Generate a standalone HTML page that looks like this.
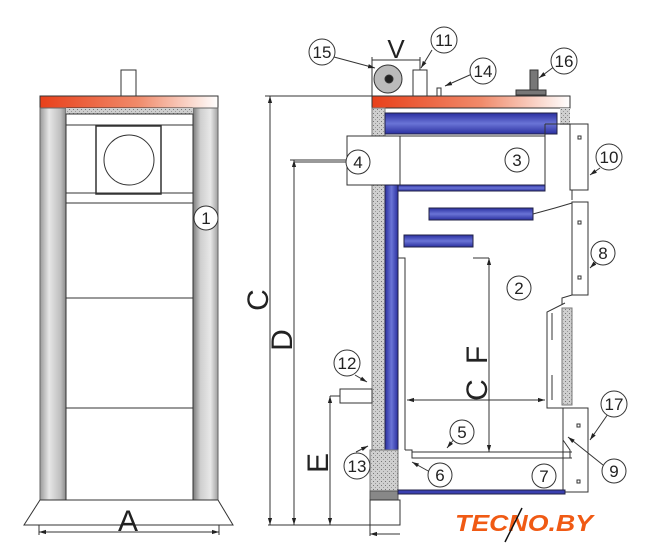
<!DOCTYPE html>
<html><head><meta charset="utf-8"><style>
html,body{margin:0;padding:0;background:#fff;}
svg{display:block;}
text{font-family:"Liberation Sans",sans-serif;fill:#222;}
</style></head><body>
<svg width="648" height="560" viewBox="0 0 648 560" xmlns="http://www.w3.org/2000/svg">
<defs>
<linearGradient id="red" x1="0" x2="1"><stop offset="0" stop-color="#e8401a"/><stop offset="0.55" stop-color="#f08a6a"/><stop offset="1" stop-color="#fff"/></linearGradient>
<linearGradient id="col" x1="0" x2="1"><stop offset="0" stop-color="#9a9a9a"/><stop offset="0.35" stop-color="#e6e6e6"/><stop offset="0.8" stop-color="#bdbdbd"/><stop offset="1" stop-color="#8a8a8a"/></linearGradient>
<linearGradient id="colr" x1="0" x2="1"><stop offset="0" stop-color="#7a7a7a"/><stop offset="0.3" stop-color="#cfcfcf"/><stop offset="0.7" stop-color="#e8e8e8"/><stop offset="1" stop-color="#a0a0a0"/></linearGradient>
<linearGradient id="blu" x1="0" x2="1"><stop offset="0" stop-color="#2a2fa0"/><stop offset="0.5" stop-color="#6a74d6"/><stop offset="1" stop-color="#2a2fa0"/></linearGradient>
<linearGradient id="bluv" x1="0" x2="0" y1="0" y2="1"><stop offset="0" stop-color="#2a2fa0"/><stop offset="0.5" stop-color="#6a74d6"/><stop offset="1" stop-color="#2a2fa0"/></linearGradient>
<pattern id="ins" width="4" height="4" patternUnits="userSpaceOnUse"><rect width="4" height="4" fill="#cfcfcf"/><rect x="1" y="1" width="1" height="1" fill="#777"/><rect x="3" y="3" width="1" height="1" fill="#999"/></pattern>
<marker id="ar" viewBox="0 0 10 10" refX="10" refY="5" markerWidth="7" markerHeight="7" orient="auto-start-reverse"><path d="M0,2 L10,5 L0,8 z" fill="#222"/></marker>
</defs>
<g stroke="#333" stroke-width="1" fill="none">
<!-- LEFT VIEW -->
<rect x="121" y="70" width="15" height="26" fill="#fff"/>
<rect x="40" y="96" width="178" height="12" fill="url(#red)"/>
<rect x="40" y="108" width="26" height="392" fill="url(#col)" stroke="#666"/>
<rect x="193" y="108" width="25" height="392" fill="url(#colr)" stroke="#666"/>
<rect x="66" y="108" width="127" height="6" fill="url(#ins)" stroke="none"/>
<rect x="66" y="114" width="127" height="386"/>
<line x1="66" y1="125" x2="193" y2="125"/>
<rect x="96" y="126" width="65" height="68" stroke-width="1.5"/>
<circle cx="129" cy="160" r="25"/>
<line x1="66" y1="193" x2="193" y2="193"/>
<line x1="66" y1="203" x2="193" y2="203"/>
<line x1="66" y1="298" x2="193" y2="298"/>
<line x1="66" y1="408" x2="193" y2="408"/>
<path d="M40,500 H218 L233,525 H24 Z" fill="#fff"/>
<line x1="39" y1="525" x2="39" y2="535"/><line x1="219" y1="525" x2="219" y2="535"/>
<line x1="39" y1="532" x2="219" y2="532" marker-start="url(#ar)" marker-end="url(#ar)"/>
<!-- DIMENSIONS -->
<line x1="265" y1="96" x2="372" y2="96"/>
<line x1="268" y1="525" x2="372" y2="525"/>
<line x1="270" y1="96" x2="270" y2="525" marker-start="url(#ar)" marker-end="url(#ar)"/>
<line x1="290" y1="160" x2="347" y2="160"/>
<line x1="294" y1="160" x2="294" y2="525" marker-start="url(#ar)" marker-end="url(#ar)"/>
<line x1="330" y1="396" x2="342" y2="396"/>
<line x1="330" y1="396" x2="330" y2="525" marker-start="url(#ar)" marker-end="url(#ar)"/>
<line x1="370" y1="525" x2="370" y2="536"/>
<line x1="370" y1="534" x2="400" y2="534" marker-start="url(#ar)"/>
<line x1="372" y1="57" x2="372" y2="96"/><line x1="420" y1="57" x2="420" y2="90"/>
<line x1="372" y1="60" x2="420" y2="60"/>
<!-- RIGHT VIEW top items -->
<circle cx="388" cy="79" r="14" fill="#bbb"/><circle cx="389" cy="79" r="4" fill="#222"/>
<rect x="413" y="70" width="14" height="26" fill="#fff"/>
<rect x="437" y="88" width="4" height="8" fill="#fff"/>
<rect x="530" y="70" width="8" height="20" fill="#777"/>
<rect x="516" y="90" width="30" height="5" fill="#777"/>
<rect x="372" y="96" width="198" height="12" fill="url(#red)"/>
<rect x="372" y="108" width="13" height="392" fill="url(#ins)" stroke="#777"/>
<rect x="560" y="108" width="10" height="17" fill="url(#ins)" stroke="none"/>
<rect x="385" y="113" width="172" height="21" fill="url(#bluv)" stroke="#224"/>
<rect x="347" y="136" width="53" height="49" fill="#fff"/>
<line x1="397" y1="136" x2="545" y2="136"/><line x1="545" y1="124" x2="545" y2="191"/>
<path d="M545,124 H570"/>
<rect x="385" y="185" width="160" height="6" fill="url(#bluv)" stroke="#224"/>
<rect x="385" y="185" width="13" height="265" fill="url(#blu)" stroke="#224"/>
<rect x="429" y="208" width="104" height="12" fill="url(#bluv)" stroke="#224"/>
<path d="M533,214 L555,208 L572,203"/>
<rect x="404" y="235" width="69" height="12" fill="url(#bluv)" stroke="#224"/>
<path d="M398,258 H405 V450"/>
<!-- right doors -->
<rect x="570" y="124" width="18" height="66" fill="#fff"/>
<rect x="572" y="202" width="16" height="93" fill="#fff"/>
<path d="M572,190 V200 M572,295 L562,298 V305"/>
<rect x="578" y="136" width="3" height="3"/><rect x="578" y="221" width="3" height="3"/><rect x="578" y="276" width="3" height="3"/>
<path d="M565,303 L547,312 V408 H572"/>
<rect x="562" y="308" width="10" height="97" fill="url(#ins)" stroke="#777"/>
<path d="M552,313 V340 M552,375 V400"/>
<rect x="563" y="408" width="25" height="84" fill="#fff"/>
<path d="M563,410 V440 L570,450 V458"/>
<rect x="577" y="424" width="3" height="3"/><rect x="577" y="480" width="3" height="3"/>
<!-- ash -->
<path d="M405,450 H412 V458 H572 M412,452 H572"/>
<rect x="370" y="450" width="28" height="50" fill="url(#ins)" stroke="#777"/>
<rect x="370" y="491" width="28" height="9" fill="#888" stroke="#555"/>
<rect x="398" y="490" width="167" height="4" fill="#3a40b0" stroke="#224"/>
<rect x="370" y="500" width="30" height="25"/>
<rect x="340" y="389" width="32" height="14" fill="#fff"/>
<!-- F and U -->
<line x1="489" y1="258" x2="489" y2="452" marker-start="url(#ar)" marker-end="url(#ar)"/>
<line x1="473" y1="258" x2="489" y2="258"/>
<line x1="407" y1="400" x2="545" y2="400" marker-start="url(#ar)" marker-end="url(#ar)"/>
<!-- leader lines -->
<line x1="334" y1="57" x2="375" y2="68" marker-end="url(#ar)"/><line x1="432" y1="50" x2="421" y2="68" marker-end="url(#ar)"/>
<line x1="472" y1="74" x2="445" y2="86" marker-end="url(#ar)"/><line x1="555" y1="66" x2="539" y2="78" marker-end="url(#ar)"/>
<line x1="346" y1="162" x2="294" y2="162"/>
<line x1="600" y1="168" x2="590" y2="175" marker-end="url(#ar)"/>
<line x1="596" y1="262" x2="590" y2="268" marker-end="url(#ar)"/>
<line x1="355" y1="375" x2="367" y2="382" marker-end="url(#ar)"/>
<line x1="356" y1="452" x2="368" y2="446" marker-end="url(#ar)"/>
<line x1="455" y1="438" x2="447" y2="448" marker-end="url(#ar)"/>
<line x1="430" y1="472" x2="412" y2="462" marker-end="url(#ar)"/>
<line x1="603" y1="465" x2="568" y2="437" marker-end="url(#ar)"/>
<line x1="608" y1="414" x2="590" y2="440" marker-end="url(#ar)"/>
<!-- number circles -->
<g fill="#fff" stroke="#333">
<circle cx="206" cy="218" r="12"/><circle cx="322" cy="52" r="13"/><circle cx="444" cy="40" r="13"/>
<circle cx="483" cy="71" r="13"/><circle cx="564" cy="61" r="13"/><circle cx="358" cy="162" r="12"/>
<circle cx="517" cy="160" r="12"/><circle cx="609" cy="157" r="13"/><circle cx="603" cy="253" r="12"/>
<circle cx="519" cy="288" r="12"/><circle cx="347" cy="363" r="13"/><circle cx="357" cy="466" r="13"/>
<circle cx="462" cy="432" r="12"/><circle cx="440" cy="475" r="12"/><circle cx="544" cy="476" r="12"/>
<circle cx="614" cy="471" r="12"/><circle cx="614" cy="404" r="13"/>
</g>
</g>
<g font-size="17" text-anchor="middle">
<text x="206" y="224">1</text><text x="322" y="58">15</text><text x="444" y="46">11</text>
<text x="483" y="77">14</text><text x="564" y="67">16</text><text x="358" y="168">4</text>
<text x="517" y="166">3</text><text x="609" y="163">10</text><text x="603" y="259">8</text>
<text x="519" y="294">2</text><text x="347" y="369">12</text><text x="357" y="472">13</text>
<text x="462" y="438">5</text><text x="440" y="481">6</text><text x="544" y="482">7</text>
<text x="614" y="477">9</text><text x="614" y="410">17</text>
</g>
<g font-size="30" text-anchor="middle">
<text x="128" y="531">A</text><text x="396" y="58" font-size="26">V</text>
<text transform="translate(268,300) rotate(-90)" x="0" y="0">C</text>
<text transform="translate(292,340) rotate(-90)">D</text>
<text transform="translate(328,463) rotate(-90)">E</text>
<text transform="translate(487,355) rotate(-90)">F</text>
<text transform="translate(487,390) rotate(-90)">C</text>
</g>
<text x="455" y="531" font-size="23" font-weight="bold" font-style="italic" style="fill:#f05a14;letter-spacing:0px" textLength="138" lengthAdjust="spacingAndGlyphs">TECNO.BY</text>
<line x1="505" y1="542" x2="522" y2="508" stroke="#111" stroke-width="1.5"/>
</svg>
</body></html>
